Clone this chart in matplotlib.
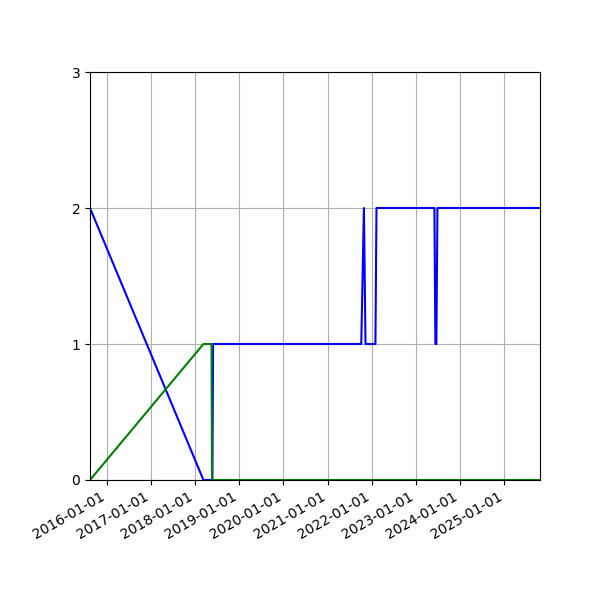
import datetime
import matplotlib
matplotlib.use("Agg")
import matplotlib.pyplot as plt
import matplotlib.dates as mdates

# blue series: change points
blue_dates = ["2015-08-16", "2018-03-11", "2018-05-24", "2018-05-30",
              "2021-10-06", "2021-10-28", "2021-11-10", "2022-01-31",
              "2022-02-09", "2023-06-03", "2023-06-11", "2023-06-19",
              "2023-06-28", "2025-10-23"]
blue_values = [2, 0, 0, 1, 1, 2, 1, 1, 2, 2, 1, 1, 2, 2]

# green series
green_dates = ["2015-08-16", "2018-03-11", "2018-05-17", "2018-05-21",
               "2025-10-23"]
green_values = [0, 1, 1, 0, 0]

y_ticks = [0, 1, 2, 3]


def toDates(lst):
    return [datetime.datetime.strptime(d, "%Y-%m-%d") for d in lst]


bx = toDates(blue_dates)
gx = toDates(green_dates)

fig, ax = plt.subplots(figsize=(6, 6), dpi=100)
ax.plot(bx, blue_values, color="b")
ax.plot(gx, green_values, color="g")

ax.set_xlim(bx[0], bx[-1])
ax.set_ylim(0, 3)
ax.set_yticks(y_ticks)
ax.xaxis.set_major_locator(mdates.YearLocator())
ax.xaxis.set_major_formatter(mdates.DateFormatter("%Y-%m-%d"))
ax.grid(True)

fig.autofmt_xdate()
fig.subplots_adjust(left=0.15, right=0.9, top=0.88, bottom=0.2)
fig.savefig("out.png")
